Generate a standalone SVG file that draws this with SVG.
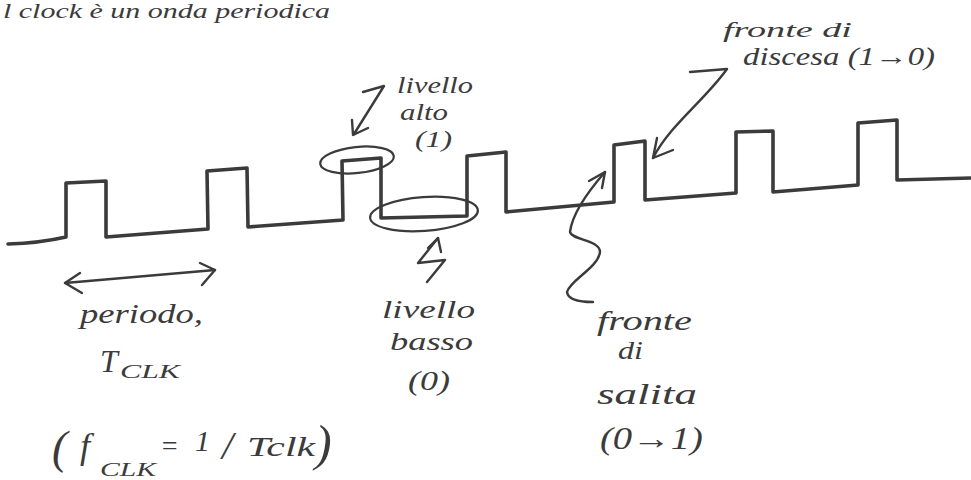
<svg xmlns="http://www.w3.org/2000/svg" width="971" height="480" viewBox="0 0 971 480">
  <style>
    .ink { fill: none; stroke: #3b3b3b; stroke-linecap: round; stroke-linejoin: round; }
    .wave { stroke-width: 3.6; }
    .loop { stroke-width: 2.2; }
    .arrow { stroke-width: 2.4; }
    .hand { font-family: "Liberation Serif", "DejaVu Serif", serif; font-style: italic; fill: #3b3b3b; }
  </style>

  <rect width="971" height="480" fill="#ffffff"/>

  <!-- heading line along the top edge of the sheet -->
  <text class="hand" x="3" y="18" font-size="21" textLength="327" lengthAdjust="spacingAndGlyphs">l clock è un onda periodica</text>

  <!-- clock square wave -->
  <g id="clock-wave">
    <path class="ink wave" d="M8,244 Q40,243 66,237 L66,183 L106,181 L106,237 L208,229 L207,171 L247,168 L248,227 L343,220 L342,161 L381,158 L381,218 L467,216 L467,156 L506,152 L506,212 L614,202 L614,145 L645,141 L645,200 L736,193 L736,132 L773,131 L773,192 L858,185 L858,123 L897,120 L897,180 L971,178"/>
  </g>

  <!-- highlight loops around the high and low levels -->
  <g id="high-level-loop">
    <ellipse class="ink loop" cx="357" cy="160" rx="37" ry="13" transform="rotate(-6 357 160)"/>
  </g>
  <g id="low-level-loop">
    <ellipse class="ink loop" cx="424" cy="214" rx="54" ry="17" transform="rotate(-4 424 214)"/>
  </g>

  <!-- pointers -->
  <g id="connectors">
    <!-- period span -->
    <path class="ink arrow" d="M65,283 L215,270"/>
    <path class="ink arrow" d="M80,273 L65,283 L82,293"/>
    <path class="ink arrow" d="M200,263 L215,270 L202,285"/>
    <!-- to high level -->
    <path class="ink arrow" d="M363,92 L384,86 L354,134"/>
    <path class="ink arrow" d="M352,120 L353,135 L368,128"/>
    <!-- to low level (zigzag) -->
    <path class="ink arrow" d="M427,282 L445,260 L418,263 L438,238"/>
    <path class="ink arrow" d="M428,248 L438,238 L441,252"/>
    <!-- to falling edge -->
    <path class="ink arrow" d="M690,72 L727,69 C705,100 670,125 653,158"/>
    <path class="ink arrow" d="M657,138 L653,158 L673,150"/>
    <!-- to rising edge -->
    <path class="ink arrow" d="M605,172 C585,195 572,215 570,232 C572,240 600,240 600,252 C598,268 570,280 567,292 C568,300 580,302 593,302"/>
    <path class="ink arrow" d="M589,181 L605,172 L602,188"/>
  </g>

  <!-- labels -->
  <g id="label-high">
    <text class="hand" x="397" y="93" font-size="23" textLength="76" lengthAdjust="spacingAndGlyphs">livello</text>
    <text class="hand" x="400" y="120" font-size="23" textLength="48" lengthAdjust="spacingAndGlyphs">alto</text>
    <text class="hand" x="415" y="147" font-size="24" textLength="37" lengthAdjust="spacingAndGlyphs">(1)</text>
  </g>
  <g id="label-low">
    <text class="hand" x="382" y="318" font-size="26" textLength="93" lengthAdjust="spacingAndGlyphs">livello</text>
    <text class="hand" x="390" y="350" font-size="26" textLength="83" lengthAdjust="spacingAndGlyphs">basso</text>
    <text class="hand" x="408" y="390" font-size="28" textLength="42" lengthAdjust="spacingAndGlyphs">(0)</text>
  </g>
  <g id="label-period">
    <text class="hand" x="80" y="323" font-size="28" textLength="123" lengthAdjust="spacingAndGlyphs">periodo,</text>
    <text class="hand" x="100" y="372" font-size="32">T</text>
    <text class="hand" x="120" y="378" font-size="18" textLength="60" lengthAdjust="spacingAndGlyphs">CLK</text>
  </g>
  <g id="label-frequency">
    <text class="hand" x="52" y="463" font-size="46">(</text>
    <text class="hand" x="80" y="458" font-size="36">f</text>
    <text class="hand" x="100" y="476" font-size="18" textLength="56" lengthAdjust="spacingAndGlyphs">CLK</text>
    <text class="hand" x="160" y="455" font-size="28">=</text>
    <text class="hand" x="195" y="451" font-size="30">1</text>
    <text class="hand" x="222" y="459" font-size="40">/</text>
    <text class="hand" x="247" y="456" font-size="28" textLength="68" lengthAdjust="spacingAndGlyphs">Tclk</text>
    <text class="hand" x="315" y="460" font-size="50">)</text>
  </g>
  <g id="label-falling">
    <text class="hand" x="723" y="37" font-size="22" textLength="129" lengthAdjust="spacingAndGlyphs">fronte di</text>
    <text class="hand" x="743" y="65" font-size="25" textLength="192" lengthAdjust="spacingAndGlyphs">discesa (1→0)</text>
  </g>
  <g id="label-rising">
    <text class="hand" x="597" y="330" font-size="27" textLength="95" lengthAdjust="spacingAndGlyphs">fronte</text>
    <text class="hand" x="618" y="359" font-size="26" textLength="25" lengthAdjust="spacingAndGlyphs">di</text>
    <text class="hand" x="597" y="404" font-size="29" textLength="100" lengthAdjust="spacingAndGlyphs">salita</text>
    <text class="hand" x="600" y="449" font-size="31" textLength="103" lengthAdjust="spacingAndGlyphs">(0→1)</text>
  </g>
</svg>
